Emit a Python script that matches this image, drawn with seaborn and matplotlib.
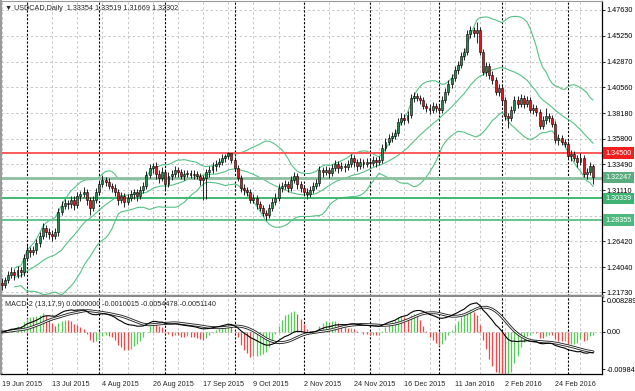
import numpy as np
import pandas as pd
import matplotlib
matplotlib.use("Agg")
import matplotlib.pyplot as plt
import seaborn as sns
from matplotlib.transforms import blended_transform_factory

# daily OHLC, USDCAD, 19 Jun 2015 .. 11 Mar 2016
opens = [
    1.2262, 1.2238, 1.2284, 1.2330, 1.2357, 1.2330, 1.2375, 1.2357, 1.2486, 1.2559,
    1.2541, 1.2559, 1.2623, 1.2688, 1.2761, 1.2724, 1.2706, 1.2688, 1.2724, 1.2908,
    1.2963, 1.2991, 1.2981, 1.3018, 1.2972, 1.3055, 1.3073, 1.3092, 1.3018, 1.2945,
    1.3018, 1.3092, 1.3165, 1.3202, 1.3184, 1.3147, 1.3129, 1.3092, 1.3018, 1.3055,
    1.3000, 1.3037, 1.3073, 1.3092, 1.3055, 1.3110, 1.3147, 1.3248, 1.3312, 1.3330,
    1.3257, 1.3220, 1.3275, 1.3165, 1.3239, 1.3257, 1.3294, 1.3275, 1.3239, 1.3257,
    1.3266, 1.3248, 1.3257, 1.3239, 1.3202, 1.3220, 1.3275, 1.3294, 1.3330, 1.3349,
    1.3367, 1.3404, 1.3422, 1.3450, 1.3385, 1.3312, 1.3220, 1.3129, 1.3110, 1.3092,
    1.3018, 1.3037, 1.2981, 1.2945, 1.2899, 1.2881, 1.2945, 1.3000, 1.3037, 1.3129,
    1.3147, 1.3165, 1.3129, 1.3202, 1.3239, 1.3165, 1.3129, 1.3092, 1.3073, 1.3110,
    1.3147, 1.3175, 1.3294, 1.3275, 1.3294, 1.3266, 1.3312, 1.3349, 1.3312, 1.3330,
    1.3321, 1.3349, 1.3404, 1.3367, 1.3330, 1.3367, 1.3349, 1.3367, 1.3358, 1.3385,
    1.3367, 1.3385, 1.3496, 1.3551, 1.3588, 1.3606, 1.3634, 1.3735, 1.3771, 1.3753,
    1.3799, 1.3955, 1.3973, 1.3955, 1.3937, 1.3882, 1.3863, 1.3845, 1.3882, 1.3863,
    1.3845, 1.3937, 1.4010, 1.4084, 1.4139, 1.4212, 1.4258, 1.4341, 1.4377, 1.4543,
    1.4579, 1.4552, 1.4579, 1.4377, 1.4194, 1.4249, 1.4166, 1.4120, 1.4010, 1.4047,
    1.3937, 1.3790, 1.3771, 1.3845, 1.3937, 1.3900, 1.3955, 1.3900, 1.3937, 1.3845,
    1.3863, 1.3826, 1.3698, 1.3753, 1.3790, 1.3771, 1.3716, 1.3569, 1.3588, 1.3551,
    1.3533, 1.3422, 1.3441, 1.3404, 1.3367, 1.3404, 1.3257, 1.3275, 1.3335,
]
highs = [
    1.2302, 1.2314, 1.2370, 1.2407, 1.2387, 1.2415, 1.2405, 1.2526, 1.2609, 1.2589,
    1.2599, 1.2663, 1.2728, 1.2811, 1.2791, 1.2764, 1.2746, 1.2764, 1.2948, 1.3013,
    1.3031, 1.3021, 1.3058, 1.3058, 1.3095, 1.3103, 1.3142, 1.3122, 1.3048, 1.3058,
    1.3132, 1.3205, 1.3252, 1.3232, 1.3224, 1.3177, 1.3169, 1.3122, 1.3095, 1.3085,
    1.3077, 1.3113, 1.3122, 1.3122, 1.3150, 1.3187, 1.3288, 1.3352, 1.3360, 1.3370,
    1.3297, 1.3325, 1.3305, 1.3279, 1.3297, 1.3334, 1.3324, 1.3305, 1.3297, 1.3296,
    1.3296, 1.3297, 1.3287, 1.3269, 1.3250, 1.3305, 1.3334, 1.3370, 1.3389, 1.3407,
    1.3444, 1.3442, 1.3462, 1.3452, 1.3415, 1.3342, 1.3250, 1.3169, 1.3140, 1.3122,
    1.3077, 1.3067, 1.3011, 1.2975, 1.2929, 1.2985, 1.3040, 1.3087, 1.3169, 1.3187,
    1.3205, 1.3195, 1.3242, 1.3279, 1.3269, 1.3195, 1.3159, 1.3132, 1.3150, 1.3187,
    1.3215, 1.3334, 1.3324, 1.3334, 1.3324, 1.3352, 1.3389, 1.3379, 1.3370, 1.3360,
    1.3389, 1.3444, 1.3434, 1.3397, 1.3407, 1.3397, 1.3407, 1.3397, 1.3425, 1.3415,
    1.3425, 1.3536, 1.3591, 1.3628, 1.3646, 1.3674, 1.3775, 1.3821, 1.3811, 1.3839,
    1.3995, 1.4013, 1.4003, 1.3985, 1.3967, 1.3912, 1.3903, 1.3922, 1.3912, 1.3893,
    1.3977, 1.4050, 1.4124, 1.4179, 1.4252, 1.4298, 1.4381, 1.4417, 1.4583, 1.4619,
    1.4609, 1.4649, 1.4609, 1.4407, 1.4289, 1.4279, 1.4206, 1.4150, 1.4087, 1.4077,
    1.3967, 1.3820, 1.3885, 1.3977, 1.3977, 1.3995, 1.3985, 1.3977, 1.3967, 1.3903,
    1.3893, 1.3856, 1.3793, 1.3860, 1.3820, 1.3801, 1.3746, 1.3628, 1.3618, 1.3581,
    1.3563, 1.3481, 1.3471, 1.3434, 1.3454, 1.3434, 1.3315, 1.3365, 1.3352,
]
lows = [
    1.2198, 1.2208, 1.2254, 1.2300, 1.2290, 1.2300, 1.2317, 1.2327, 1.2456, 1.2501,
    1.2511, 1.2529, 1.2593, 1.2658, 1.2684, 1.2666, 1.2648, 1.2658, 1.2694, 1.2878,
    1.2933, 1.2941, 1.2951, 1.2932, 1.2942, 1.3015, 1.3043, 1.2978, 1.2880, 1.2915,
    1.2988, 1.3062, 1.3135, 1.3144, 1.3117, 1.3089, 1.3052, 1.2978, 1.2988, 1.2960,
    1.2970, 1.3007, 1.3033, 1.3015, 1.3025, 1.3080, 1.3117, 1.3218, 1.3272, 1.3217,
    1.3180, 1.3190, 1.3115, 1.3135, 1.3199, 1.3227, 1.3235, 1.3209, 1.3199, 1.3227,
    1.3218, 1.3208, 1.3209, 1.3162, 1.3018, 1.3030, 1.3235, 1.3264, 1.3290, 1.3319,
    1.3337, 1.3364, 1.3392, 1.3355, 1.3282, 1.3190, 1.3089, 1.3070, 1.3052, 1.2988,
    1.2988, 1.2941, 1.2915, 1.2869, 1.2835, 1.2851, 1.2915, 1.2970, 1.3007, 1.3089,
    1.3117, 1.3089, 1.3099, 1.3172, 1.3125, 1.3089, 1.3052, 1.3033, 1.3043, 1.3080,
    1.3117, 1.3145, 1.3235, 1.3245, 1.3226, 1.3236, 1.3282, 1.3272, 1.3282, 1.3281,
    1.3291, 1.3319, 1.3327, 1.3290, 1.3300, 1.3309, 1.3319, 1.3318, 1.3328, 1.3327,
    1.3337, 1.3355, 1.3466, 1.3521, 1.3548, 1.3576, 1.3604, 1.3705, 1.3713, 1.3723,
    1.3769, 1.3915, 1.3925, 1.3897, 1.3852, 1.3823, 1.3805, 1.3815, 1.3823, 1.3805,
    1.3815, 1.3907, 1.3980, 1.4044, 1.4109, 1.4172, 1.4228, 1.4301, 1.4347, 1.4503,
    1.4512, 1.4460, 1.4347, 1.4164, 1.4154, 1.4126, 1.4080, 1.3980, 1.3970, 1.3897,
    1.3750, 1.3680, 1.3741, 1.3815, 1.3860, 1.3870, 1.3860, 1.3870, 1.3815, 1.3805,
    1.3786, 1.3668, 1.3668, 1.3713, 1.3731, 1.3686, 1.3539, 1.3529, 1.3521, 1.3503,
    1.3392, 1.3382, 1.3374, 1.3327, 1.3337, 1.3227, 1.3217, 1.3245, 1.3167,
]
closes = [
    1.2238, 1.2284, 1.2330, 1.2357, 1.2330, 1.2375, 1.2357, 1.2486, 1.2559, 1.2541,
    1.2559, 1.2623, 1.2688, 1.2761, 1.2724, 1.2706, 1.2688, 1.2724, 1.2908, 1.2963,
    1.2991, 1.2981, 1.3018, 1.2972, 1.3055, 1.3073, 1.3092, 1.3018, 1.2945, 1.3018,
    1.3092, 1.3165, 1.3202, 1.3184, 1.3147, 1.3129, 1.3092, 1.3018, 1.3055, 1.3000,
    1.3037, 1.3073, 1.3092, 1.3055, 1.3110, 1.3147, 1.3248, 1.3312, 1.3330, 1.3257,
    1.3220, 1.3275, 1.3165, 1.3239, 1.3257, 1.3294, 1.3275, 1.3239, 1.3257, 1.3266,
    1.3248, 1.3257, 1.3239, 1.3202, 1.3220, 1.3275, 1.3294, 1.3330, 1.3349, 1.3367,
    1.3404, 1.3422, 1.3450, 1.3385, 1.3312, 1.3220, 1.3129, 1.3110, 1.3092, 1.3018,
    1.3037, 1.2981, 1.2945, 1.2899, 1.2881, 1.2945, 1.3000, 1.3037, 1.3129, 1.3147,
    1.3165, 1.3129, 1.3202, 1.3239, 1.3165, 1.3129, 1.3092, 1.3073, 1.3110, 1.3147,
    1.3175, 1.3294, 1.3275, 1.3294, 1.3266, 1.3312, 1.3349, 1.3312, 1.3330, 1.3321,
    1.3349, 1.3404, 1.3367, 1.3330, 1.3367, 1.3349, 1.3367, 1.3358, 1.3385, 1.3367,
    1.3385, 1.3496, 1.3551, 1.3588, 1.3606, 1.3634, 1.3735, 1.3771, 1.3753, 1.3799,
    1.3955, 1.3973, 1.3955, 1.3937, 1.3882, 1.3863, 1.3845, 1.3882, 1.3863, 1.3845,
    1.3937, 1.4010, 1.4084, 1.4139, 1.4212, 1.4258, 1.4341, 1.4377, 1.4543, 1.4579,
    1.4552, 1.4579, 1.4377, 1.4194, 1.4249, 1.4166, 1.4120, 1.4010, 1.4047, 1.3937,
    1.3790, 1.3771, 1.3845, 1.3937, 1.3900, 1.3955, 1.3900, 1.3937, 1.3845, 1.3863,
    1.3826, 1.3698, 1.3753, 1.3790, 1.3771, 1.3716, 1.3569, 1.3588, 1.3551, 1.3533,
    1.3422, 1.3441, 1.3404, 1.3367, 1.3404, 1.3257, 1.3275, 1.3335, 1.3230,
]

date_labels = ["19 Jun 2015", "13 Jul 2015", "4 Aug 2015", "26 Aug 2015",
               "17 Sep 2015", "9 Oct 2015", "2 Nov 2015", "24 Nov 2015",
               "16 Dec 2015", "11 Jan 2016", "2 Feb 2016", "24 Feb 2016"]
label_bars = [0, 16, 32, 48, 64, 80, 96, 112, 128, 144, 160, 176]
month_starts = [8, 31, 52, 74, 96, 117, 139, 159, 180]

price_ticks = [1.4763, 1.4525, 1.4287, 1.4056, 1.3818, 1.3580,
               1.3349, 1.3111, 1.2873, 1.2642, 1.2404, 1.2173]
price_tick_labels = ["1.47630", "1.45250", "1.42870", "1.40560", "1.38180", "1.35800",
                     "1.33490", "1.31110", "1.28730", "1.26420", "1.24040", "1.21730"]

levels = [1.34500, 1.32247, 1.30339, 1.28355]
level_labels = ["1.34500", "1.32247", "1.30339", "1.28355"]
level_line_colors = ["#ff5a5a", "#8cbf9f", "#3fb872", "#62c48e"]
level_box_colors = ["#f31f1f", "#5aab7e", "#3cb371", "#4cb97e"]

macd_ticks = [0.008289, 0.0, -0.009840]
macd_tick_labels = ["0.008289", "0.00", "-0.009840"]

title = "\u25bc USDCAD,Daily  1.33354 1.33519 1.31669 1.32302"
macd_title = "MACD-2 (13,17,9) 0.0000000 -0.0010015 -0.0054478 -0.0051140"

# ---- indicators
df = pd.DataFrame({"o": opens, "h": highs, "l": lows, "c": closes})
df["bar"] = np.arange(len(df))
mid = df["c"].rolling(20, min_periods=5).mean()
sd = df["c"].rolling(20, min_periods=5).std(ddof=0)
df["bb_mid"] = mid
df["bb_up"] = mid + 2 * sd
df["bb_dn"] = mid - 2 * sd

macd = df["c"].ewm(span=13, adjust=False).mean() - df["c"].ewm(span=17, adjust=False).mean()
signal = macd.rolling(9, min_periods=1).mean()
hist = 3 * (macd - signal)
df["macd"] = macd
df["signal"] = signal
df["hist"] = hist
rising = hist.diff().fillna(0) >= 0

# ---- figure
sns.set_style("white")
plt.rcParams["font.family"] = ["Liberation Sans", "DejaVu Sans"]
FS = 5.2

W, H = 635, 391
fig = plt.figure(figsize=(W / 100, H / 100), dpi=100)

def rect(x0, y0, x1, y1):
    return [x0 / W, 1 - y1 / H, (x1 - x0) / W, (y1 - y0) / H]

ax = fig.add_axes(rect(1, 1, 602, 296))
axm = fig.add_axes(rect(1, 297, 602, 374))

px_per_bar = 3.145
x_left = (1 - 1.8) / px_per_bar
x_right = (602 - 1.8) / px_per_bar
px_per_unit = 1090.0
ax.set_ylim(1.4763 - (296 - 10) / px_per_unit, 1.4763 + 9 / px_per_unit)
axm.set_ylim(-42 / 3800, 35 / 3800)
for a in (ax, axm):
    a.set_xlim(x_left, x_right)

grid_kw = dict(color="#c6c6c6", lw=0.7, ls=(0, (2.5, 2.5)), zorder=0)
sep_kw = dict(color="black", lw=0.8, ls=(0, (2, 1.5)), zorder=1)
for a in (ax, axm):
    for b in range(0, 192, 8):
        if b not in month_starts:
            a.axvline(b, **grid_kw)
    for b in month_starts:
        a.axvline(b, **sep_kw)
for p in price_ticks:
    ax.axhline(p, **grid_kw)
axm.axhline(0, **grid_kw)

# Bollinger bands
band_color = "#55c285"
for col in ["bb_up", "bb_mid", "bb_dn"]:
    sns.lineplot(data=df, x="bar", y=col, ax=ax, color=band_color, lw=0.8, zorder=2)

# horizontal levels
for val, lc in zip(levels, level_line_colors):
    ax.axhline(val, color=lc, lw=1.4 if lc != "#8cbf9f" else 2.0, zorder=2)

# candles
up = df["c"] >= df["o"]
body = (df["c"] - df["o"]).abs().clip(lower=0.0004)
bottom = np.minimum(df["o"], df["c"])
ax.vlines(df["bar"], df["l"], df["h"], color="black", lw=0.6, zorder=3)
ax.bar(df["bar"][up], body[up], bottom=bottom[up], width=0.62,
       color="#2d8750", edgecolor="black", linewidth=0.4, zorder=4)
ax.bar(df["bar"][~up], body[~up], bottom=bottom[~up], width=0.62,
       color="#e3161c", edgecolor="black", linewidth=0.4, zorder=4)

# MACD panel
hist_colors = np.where(rising, "#55cc55", "#f24848")
axm.vlines(df["bar"], 0, df["hist"], colors=hist_colors, lw=0.9, zorder=2)
sns.lineplot(data=df, x="bar", y="signal", ax=axm, color="#262626", lw=2.0, zorder=3)
sns.lineplot(data=df, x="bar", y="signal", ax=axm, color="white", lw=0.7, zorder=4)
sns.lineplot(data=df, x="bar", y="macd", ax=axm, color="black", lw=0.8, zorder=5)

# axes styling
for a in (ax, axm):
    a.set_xlabel("")
    a.set_ylabel("")
    a.yaxis.tick_right()
    a.spines["right"].set_color("black")
    a.spines["right"].set_linewidth(0.9)
    a.spines["left"].set_color("#9a9a9a")
    a.spines["left"].set_linewidth(1.5)
    a.tick_params(axis="y", direction="out", length=2.5, width=0.6,
                  pad=1, labelsize=FS, colors="black")
ax.spines["top"].set_color("#9a9a9a")
ax.spines["bottom"].set_color("#8a8a8a")
ax.spines["bottom"].set_linewidth(2.5)
axm.spines["top"].set_visible(False)
axm.spines["bottom"].set_color("black")
axm.spines["bottom"].set_linewidth(0.9)

ax.set_yticks(price_ticks, price_tick_labels)
ax.set_xticks([])
axm.set_yticks(macd_ticks, macd_tick_labels)
axm.set_xticks(label_bars, date_labels)
axm.tick_params(axis="x", direction="out", length=2.5, width=0.6, pad=2.5, labelsize=FS)
for t in axm.get_xticklabels():
    t.set_horizontalalignment("left")

# level labels on the price scale
tr = blended_transform_factory(ax.transAxes, ax.transData)
for val, txt, bc in zip(levels, level_labels, level_box_colors):
    ax.text(1.006, val, txt, transform=tr, va="center", ha="left", color="white",
            fontsize=FS, clip_on=False, zorder=10,
            bbox=dict(boxstyle="square,pad=0.3", fc=bc, ec="none"))

fig.text(5 / W, 1 - 8 / H, title, fontsize=FS, va="center", ha="left")
fig.text(5 / W, 1 - 304 / H, macd_title, fontsize=FS, va="center", ha="left")

fig.savefig("out.png", dpi=100, facecolor="white")
